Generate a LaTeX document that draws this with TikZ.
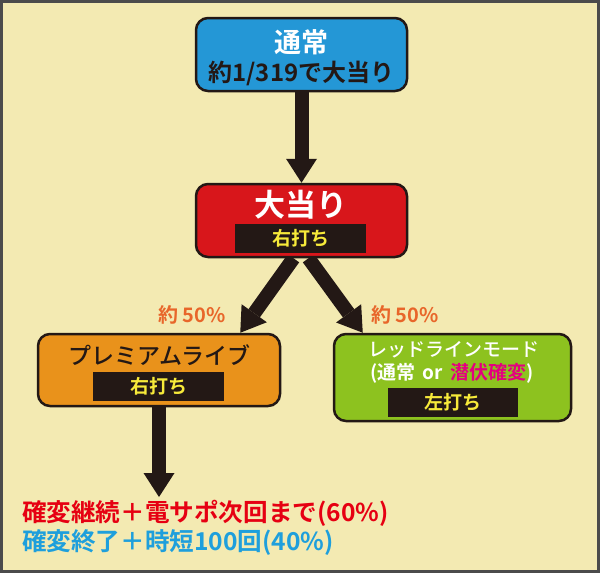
\documentclass[tikz,border=0pt]{standalone}
\usepackage{fontspec}
\setmainfont{Noto Sans CJK JP}[BoldFont={Noto Sans CJK JP Bold}]
\newfontfamily\jpmedium{Noto Sans CJK JP Medium}
\usetikzlibrary{arrows.meta,calc}
\definecolor{paper}{HTML}{F3EAB2}
\definecolor{frameg}{HTML}{4B4B4B}
\definecolor{ink}{HTML}{231815}
\definecolor{boxblue}{HTML}{2497D6}
\definecolor{boxred}{HTML}{D8161B}
\definecolor{boxorange}{HTML}{E9921B}
\definecolor{boxgreen}{HTML}{8DC21F}
\definecolor{tagyellow}{HTML}{F7EA3A}
\definecolor{rateorange}{HTML}{E8662A}
\definecolor{hidepink}{HTML}{E4007F}
\definecolor{keepred}{HTML}{E60012}
\definecolor{endblue}{HTML}{1E9FDC}
\newcommand\fsz[1]{\fontsize{#1pt}{#1pt}\selectfont}
\pgfdeclarelayer{paperlayer}
\pgfdeclarelayer{links}
\pgfsetlayers{paperlayer,links,main}

\begin{document}
\begin{tikzpicture}[x=1pt,y=-1pt,
  box/.style={draw=ink,line width=2.5pt,rounded corners=12pt,inner sep=0pt},
  tag/.style={fill=ink,text=tagyellow,inner sep=0pt,minimum width=#1,minimum height=29,font=\bfseries\fsz{19}},
  flow/.style={draw=ink,line width=14pt,-{Triangle[width=31pt,length=24pt,line width'=0pt]}}]
  \useasboundingbox (0,0) rectangle (600,573);
  \begin{pgfonlayer}{paperlayer}
    \fill[paper] (0,0) rectangle (600,573);
    \draw[frameg,line width=3pt] (1.5,1.5) rectangle (598.5,571.5);
  \end{pgfonlayer}

  \node[box,fill=boxblue,minimum width=211,minimum height=73] (usual) at (301.5,54.5) {};
  \node[text=white,font=\bfseries\fsz{27}] (usualname) at (301.5,42) {通常};
  \node[text=ink,font=\bfseries\fsz{24}] (usualrate) at (301.5,73) {約1/319で大当り};

  \node[box,fill=boxred,minimum width=211,minimum height=73] (hit) at (301.5,220.5) {};
  \node[text=white,font=\bfseries\fsz{31}] (hitname) at (301,205) {大当り};
  \node[tag=131] (hittag) at (300.5,238) {右打ち};

  \node[box,fill=boxorange,minimum width=242,minimum height=72] (premium) at (159,370) {};
  \node[text=ink,font=\jpmedium\fsz{23}] (premiumname) at (159.5,355) {プレミアムライブ};
  \node[tag=131] (premiumtag) at (158.5,386.5) {右打ち};

  \node[box,fill=boxgreen,minimum width=237,minimum height=87] (redline) at (452.5,377.5) {};
  \node[text=white,font=\jpmedium\fsz{19}] (redlinename) at (454,350) {レッドラインモード};
  \node[text=white,font=\bfseries\fsz{19}] (redlinesub) at (452,373)
    {(通常\hspace{0.4em}or\hspace{0.4em}\textcolor{hidepink}{潜伏確変})};
  \node[tag=130] (redlinetag) at (453,402.5) {左打ち};

  \foreach \side/\x in {left/192,right/405}
    \node[text=rateorange,font=\bfseries\fsz{20}] (rate\side) at (\x,315) {約 50\%};

  \node[anchor=west,inner sep=0pt,text=keepred,font=\bfseries\fsz{24.6}] (keep) at (22,513)
    {確変継続＋電サポ次回まで(60\%)};
  \node[anchor=west,inner sep=0pt,text=endblue,font=\bfseries\fsz{24.6}] (finish) at (22,543)
    {確変終了＋時短100回(40\%)};
  \coordinate (drop) at (159,497);

  \begin{pgfonlayer}{links}
    \draw[flow] (usual) -- (hit);
    \draw[flow] ($(hit.south)+(-8,0)$) -- ($(premium.north east)+(-41,0)$);
    \draw[flow] ($(hit.south)+(7,0)$) -- ($(redline.north west)+(30,0)$);
    \draw[flow] (premium.south) -- (drop);
  \end{pgfonlayer}
\end{tikzpicture}
\end{document}
